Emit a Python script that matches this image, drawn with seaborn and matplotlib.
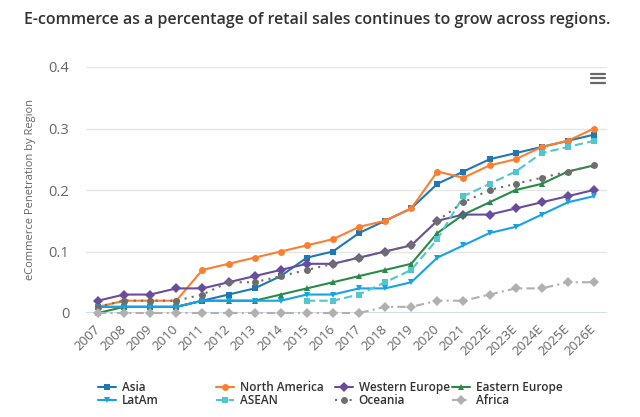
import numpy as np
import pandas as pd
import seaborn as sns
import matplotlib.pyplot as plt
from matplotlib.lines import Line2D

years = ['2007', '2008', '2009', '2010', '2011', '2012', '2013', '2014', '2015', '2016',
         '2017', '2018', '2019', '2020', '2021', '2022E', '2023E', '2024E', '2025E', '2026E']

asia = [0.01, 0.01, 0.01, 0.01, 0.02, 0.03, 0.04, 0.06, 0.09, 0.10,
        0.13, 0.15, 0.17, 0.21, 0.23, 0.25, 0.26, 0.27, 0.28, 0.29]
north_america = [0.01, 0.02, 0.02, 0.02, 0.07, 0.08, 0.09, 0.10, 0.11, 0.12,
                 0.14, 0.15, 0.17, 0.23, 0.22, 0.24, 0.25, 0.27, 0.28, 0.30]
western_europe = [0.02, 0.03, 0.03, 0.04, 0.04, 0.05, 0.06, 0.07, 0.08, 0.08,
                  0.09, 0.10, 0.11, 0.15, 0.16, 0.16, 0.17, 0.18, 0.19, 0.20]
eastern_europe = [0.00, 0.01, 0.01, 0.01, 0.02, 0.02, 0.02, 0.03, 0.04, 0.05,
                  0.06, 0.07, 0.08, 0.13, 0.16, 0.18, 0.20, 0.21, 0.23, 0.24]
latam = [0.01, 0.01, 0.01, 0.01, 0.02, 0.02, 0.02, 0.02, 0.03, 0.03,
         0.04, 0.04, 0.05, 0.09, 0.11, 0.13, 0.14, 0.16, 0.18, 0.19]
asean = [np.nan, np.nan, np.nan, np.nan, np.nan, np.nan, np.nan, np.nan, 0.02, 0.02,
         0.03, 0.05, 0.07, 0.12, 0.19, 0.21, 0.23, 0.26, 0.27, 0.28]
oceania = [0.01, 0.02, 0.02, 0.02, 0.03, 0.05, 0.05, 0.06, 0.07, 0.08,
           0.09, 0.10, 0.11, 0.15, 0.18, 0.20, 0.21, 0.22, 0.23, 0.24]
africa = [0.00, 0.00, 0.00, 0.00, 0.00, 0.00, 0.00, 0.00, 0.00, 0.00,
          0.00, 0.01, 0.01, 0.02, 0.02, 0.03, 0.04, 0.04, 0.05, 0.05]

regions = ['Asia', 'North America', 'Western Europe', 'Eastern Europe',
           'LatAm', 'ASEAN', 'Oceania', 'Africa']
series = [asia, north_america, western_europe, eastern_europe,
          latam, asean, oceania, africa]

palette = {'Asia': '#1f77b4', 'North America': '#fd7e2f', 'Western Europe': '#6a4c9c',
           'Eastern Europe': '#2a8a4a', 'LatAm': '#17a2e6', 'ASEAN': '#4fc7cf',
           'Oceania': '#6e6e6e', 'Africa': '#b0b0b0'}
markers = {'Asia': 's', 'North America': 'o', 'Western Europe': 'D', 'Eastern Europe': '^',
           'LatAm': 'v', 'ASEAN': 's', 'Oceania': 'o', 'Africa': 'D'}
dashes = {'Asia': '', 'North America': '', 'Western Europe': '', 'Eastern Europe': '',
          'LatAm': '', 'ASEAN': (4, 2), 'Oceania': (1, 2.5), 'Africa': (4, 2, 1, 2)}

# long-form table
rows = []
for name, vals in zip(regions, series):
    for i, v in enumerate(vals):
        if not np.isnan(v):
            rows.append({'idx': i, 'year': years[i], 'region': name, 'value': v})
df = pd.DataFrame(rows)

sns.set_style('white')
plt.rcParams['font.family'] = ['Open Sans', 'DejaVu Sans']

fig = plt.figure(figsize=(6.4, 4.17), dpi=100)
ax = fig.add_axes([86 / 640, 1 - 313 / 417, (607 - 86) / 640, (313 - 67) / 417])

sns.lineplot(data=df, x='idx', y='value', hue='region', style='region',
             hue_order=regions, style_order=regions, palette=palette,
             markers=markers, dashes=dashes, linewidth=1.5, markersize=5,
             markeredgewidth=0, legend=False, ax=ax)
for ln in ax.lines:
    ln.set_clip_on(False)
    ln.set_zorder(3)

ax.set_xlim(-0.46, 19.5)
ax.set_ylim(0, 0.4)
ax.set_yticks([0, 0.1, 0.2, 0.3, 0.4])
ax.set_yticklabels(['0', '0.1', '0.2', '0.3', '0.4'], color='#666666', fontsize=10.5)
ax.set_xticks(range(len(years)))
ax.set_xticklabels(years, rotation=45, ha='right', va='center', rotation_mode='anchor',
                   color='#666666', fontsize=9.5)
ax.tick_params(axis='x', length=0, pad=10)
ax.tick_params(axis='y', length=0, pad=12)
ax.set_xlabel('')
ax.set_ylabel('eCommerce Penetration by Region', color='#666666', fontsize=8, labelpad=9)

ax.grid(axis='y', color='#e6e6e6', linewidth=1)
ax.grid(axis='x', visible=False)
for s in ax.spines.values():
    s.set_visible(False)
ax.axhline(0, color='#ccd6eb', linewidth=1.2, zorder=2)

fig.text(0.495, 1 - 20 / 417, 'E-commerce as a percentage of retail sales continues to grow across regions.',
         ha='center', va='center', fontsize=11.5, fontweight='semibold', color='#333333')

# menu icon
for yy in [73.5, 78, 82.5]:
    fig.add_artist(Line2D([591 / 640, 605 / 640], [1 - yy / 417, 1 - yy / 417],
                          color='#666666', linewidth=1.6, solid_capstyle='round'))

# legend, four fixed-width columns of two rows
cols = [['Asia', 'LatAm'], ['North America', 'ASEAN'],
        ['Western Europe', 'Oceania'], ['Eastern Europe', 'Africa']]
col_x = [92, 210, 329, 446]
for names, cx in zip(cols, col_x):
    handles = []
    for n in names:
        ls = '-' if dashes[n] == '' else (0, dashes[n])
        handles.append(Line2D([], [], color=palette[n], marker=markers[n], markersize=5,
                              markeredgewidth=0, linewidth=1.5, linestyle=ls, label=n))
    fig.legend(handles=handles, loc='upper left', bbox_to_anchor=(cx / 640, 1 - 375 / 417),
               frameon=False, handlelength=1.5, handletextpad=0.5,
               labelspacing=0.0, borderpad=0,
               prop={'size': 8.5, 'weight': 'semibold'}, labelcolor='#333333')

fig.savefig('out.png', dpi=100)
